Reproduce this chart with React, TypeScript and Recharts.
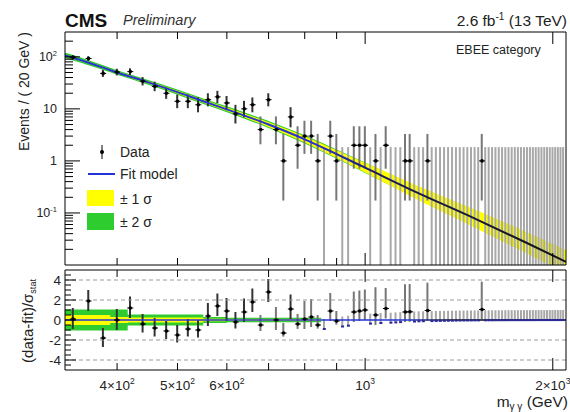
import React from 'react';
import { ComposedChart, XAxis, YAxis, Area, Line, Bar, Scatter, Cell, ReferenceLine } from 'recharts';

// ---------- data ----------
const massBins = [
  340, 360, 380, 400, 420, 440, 460, 480, 500, 520,
  540, 560, 580, 600, 620, 640, 660, 680, 700, 720,
  740, 760, 780, 800, 820, 840, 860, 880, 900, 920,
  940, 960, 980, 1000, 1020, 1040, 1060, 1080, 1100, 1120,
  1140, 1160, 1180, 1200, 1220, 1240, 1260, 1280, 1300, 1320,
  1340, 1360, 1380, 1400, 1420, 1440, 1460, 1480, 1500, 1520,
  1540, 1560, 1580, 1600, 1620, 1640, 1660, 1680, 1700, 1720,
  1740, 1760, 1780, 1800, 1820, 1840, 1860, 1880, 1900, 1920,
  1940, 1960, 1980, 2000, 2020, 2040, 2060, 2080,
];

const counts = [
  98, 93, 48, 51, 52, 34, 27, 20, 14, 14,
  12, 15, 17, 13, 8, 10, 12, 4, 15, 4,
  1, 7, 2, 3, 3, 1, 0, 3, 1, 0,
  0, 2, 2, 2, 0, 1, 0, 2, 0, 0,
  0, 1, 1, 0, 0, 0, 1, 0, 0, 0,
  0, 0, 0, 0, 0, 0, 0, 0, 0, 0,
  1, 0, 0, 0, 0, 0, 0, 0, 0, 0,
  0, 0, 0, 0, 0, 0, 0, 0, 0, 0,
  0, 0, 0, 0, 0, 0, 0, 0,
];

// Poisson (Garwood 68%) interval ends for the counts that occur
const poissonLow: Record<number, number> = {
  0: 0, 1: 0.173, 2: 0.708, 3: 1.367, 4: 2.086, 7: 4.419, 8: 5.232, 10: 6.891, 12: 8.585,
  13: 9.441, 14: 10.3, 15: 11.17, 17: 12.92, 20: 15.58, 27: 21.86, 34: 28.22, 48: 41.1,
  51: 43.9, 52: 44.8, 93: 83.4, 98: 88.1,
};
const poissonHigh: Record<number, number> = {
  0: 1.841, 1: 3.3, 2: 4.638, 3: 5.918, 4: 7.163, 7: 10.77, 8: 11.95, 10: 14.27, 12: 16.57,
  13: 17.71, 14: 18.84, 15: 19.96, 17: 22.2, 20: 25.54, 27: 33.24, 34: 40.86, 48: 55.9,
  51: 59.1, 52: 60.2, 93: 103.2, 98: 108.4,
};

const pulls = [
  0.1, 1.9, -1.8, 0.0, 1.2, -0.4, -0.8, -1.1, -1.5, -0.9,
  -1.0, 0.4, 1.4, 0.9, -0.2, 0.8, 1.8, -0.5, 2.8, 0.0,
  -1.3, 1.1, -0.4, 0.1, 0.3, -0.5, -0.9, 0.9, -0.1, -0.65,
  -0.57, 0.8, 0.9, 1.0, -0.36, 0.5, -0.3, 1.15, -0.27, -0.24,
  -0.21, 0.8, 0.82, -0.15, -0.13, -0.12, 0.95, -0.11, -0.1, -0.09,
  -0.08, -0.075, -0.07, -0.06, -0.055, -0.05, -0.047, -0.044, -0.04, -0.037,
  1.05, -0.032, -0.03, -0.028, -0.026, -0.024, -0.022, -0.021, -0.019, -0.018,
  -0.017, -0.016, -0.015, -0.014, -0.013, -0.012, -0.011, -0.011, -0.01, -0.009,
  -0.009, -0.008, -0.008, -0.007, -0.007, -0.006, -0.006, -0.006,
];
const pullErrUp = [
  1.1, 1.1, 1, 1.1, 1.15, 1, 1, 1, 1, 1,
  1, 1.3, 1.25, 1.3, 1, 1.35, 1.35, 1, 1.3, 1.3,
  1, 1.45, 1, 1.8, 1.8, 1, 1, 1.8, 1, 1,
  1, 2.05, 2.05, 2.05, 1, 2.78, 1, 2.05, 1, 1,
  1, 2.78, 2.78, 1, 1, 1, 2.78, 1, 1, 1,
  1, 1, 1, 1, 1, 1, 1, 1, 1, 1,
  2.78, 1, 1, 1, 1, 1, 1, 1, 1, 1,
  1, 1, 1, 1, 1, 1, 1, 1, 1, 1,
  1, 1, 1, 1, 1, 1, 1, 1,
];
const pullErrDn = [
  1, 1, 0.9, 1, 1, 0.85, 0.85, 0.8, 0.75, 0.75,
  0.75, 1, 1, 1, 0.65, 1, 1, 0.6, 1, 1,
  0.36, 1, 0.49, 1, 1, 0.36, 0, 1, 0.36, 0,
  0, 1, 1, 1, 0, 1, 0, 1, 0, 0,
  0, 1, 1, 0, 0, 0, 1, 0, 0, 0,
  0, 0, 0, 0, 0, 0, 0, 0, 0, 0,
  1, 0, 0, 0, 0, 0, 0, 0, 0, 0,
  0, 0, 0, 0, 0, 0, 0, 0, 0, 0,
  0, 0, 0, 0, 0, 0, 0, 0,
];

// fit model
const fitMass = [330, 340, 360, 380, 400, 450, 500, 550, 600, 700, 800, 900, 1000, 1200, 1500, 1800, 2100];
const fitValue = [106, 96, 77, 62, 50, 32, 21, 14, 9.8, 5.0, 2.6, 1.35, 0.74, 0.26, 0.078, 0.028, 0.0115];
const fitErr1 = [0.04, 0.04, 0.04, 0.04, 0.04, 0.05, 0.06, 0.07, 0.08, 0.11, 0.15, 0.19, 0.24, 0.36, 0.5, 0.6, 0.68];
const fitErr2 = [0.13, 0.13, 0.12, 0.11, 0.105, 0.11, 0.12, 0.13, 0.14, 0.17, 0.2, 0.23, 0.26, 0.3, 0.32, 0.33, 0.33];

// pull-panel bands
const pullBandMass = [330, 390, 416, 550, 600, 850, 2100];
const pullBand2 = [1.05, 1.05, 0.55, 0.3, 0.22, 0, 0];
const pullBand1 = [0.5, 0.3, 0.25, 0.12, 0.1, 0, 0];

// axis ticks
const xTicks = [400, 500, 600, 700, 800, 900, 1000, 2000];
const xMajor = [1000, 2000];
const xLabels: Record<string, [string, string]> = {
  '400': ['4×10', '2'], '500': ['5×10', '2'], '600': ['6×10', '2'], '1000': ['10', '3'], '2000': ['2×10', '3'],
};
const yLogTicks = [
  0.02, 0.03, 0.04, 0.05, 0.06, 0.07, 0.08, 0.09, 0.1,
  0.2, 0.3, 0.4, 0.5, 0.6, 0.7, 0.8, 0.9, 1,
  2, 3, 4, 5, 6, 7, 8, 9, 10,
  20, 30, 40, 50, 60, 70, 80, 90, 100, 200,
];
const yLogLabels: Record<string, [string, string]> = { '-1': ['10', '-1'], '0': ['1', ''], '1': ['10', ''], '2': ['10', '2'] };
const pullTicks = [-4.5, -4, -3.5, -3, -2.5, -2, -1.5, -1, -0.5, 0, 0.5, 1, 1.5, 2, 2.5, 3, 3.5, 4, 4.5];
const pullLabeled = [-4, -2, 0, 2, 4];
const pullGrid = [-4, -2, 2, 4];

// ---------- rows built from the arrays ----------
const LOG_FLOOR = 1e-4;
const binRows = massBins.map((m, i) => {
  const n = counts[i];
  return {
    m,
    n,
    err: [Math.max(poissonLow[n], LOG_FLOOR), poissonHigh[n]],
    pull: pulls[i],
    pullErr: [pulls[i] - pullErrDn[i], pulls[i] + pullErrUp[i]],
  };
});
const pointRows = binRows.filter((r) => r.n > 0);
const fitRows = fitMass.map((m, i) => ({
  m,
  fit: fitValue[i],
  band1: [fitValue[i] / (1 + fitErr1[i]), fitValue[i] * (1 + fitErr1[i])],
  band2: [fitValue[i] / (1 + fitErr2[i]), fitValue[i] * (1 + fitErr2[i])],
}));
const pullBandRows = pullBandMass.map((m, i) => ({
  m,
  b1: [-pullBand1[i], pullBand1[i]],
  b2: [-pullBand2[i], pullBand2[i]],
}));

// ---------- styling helpers ----------
const FONT = '"Liberation Sans", Arial, Helvetica, sans-serif';
const TXT = '#222';
const X_DOMAIN = [330, 2100];
const GREEN = '#2ecc2e';
const YELLOW = '#ffff00';

function xTick(side: 'top' | 'bottom', labels: boolean) {
  return (props: any) => {
    const { x, y, payload } = props;
    const v = payload.value;
    const len = xMajor.includes(v) ? 12 : 7;
    const dir = side === 'bottom' ? -1 : 1;
    const lab = labels ? xLabels[String(v)] : undefined;
    return (
      <g>
        <line x1={x} x2={x} y1={y} y2={y + dir * len} stroke="#000" strokeWidth={1} />
        {lab && (
          <text x={x} y={y + 20} textAnchor="middle" fontSize={13.5} fill={TXT} fontFamily={FONT}>
            {lab[0]}
            <tspan fontSize={8.5} dy={-6}>{lab[1]}</tspan>
          </text>
        )}
      </g>
    );
  };
}

const yLogTick = (props: any) => {
  const { x, y, payload } = props;
  const v = payload.value as number;
  const e = Math.log10(v);
  const major = Math.abs(e - Math.round(e)) < 1e-6;
  const lab = major ? yLogLabels[String(Math.round(e))] : undefined;
  return (
    <g>
      <line x1={x} x2={x + (major ? 15 : 8)} y1={y} y2={y} stroke="#000" strokeWidth={1} />
      {lab && (
        <text x={x - 8} y={y + 4} textAnchor="end" fontSize={12.5} fill={TXT} fontFamily={FONT}>
          {lab[0]}
          {lab[1] && <tspan fontSize={7.5} dy={-5}>{lab[1]}</tspan>}
        </text>
      )}
    </g>
  );
};

const pullTick = (props: any) => {
  const { x, y, payload } = props;
  const v = payload.value as number;
  const major = pullLabeled.includes(v);
  return (
    <g>
      <line x1={x} x2={x + (major ? 11 : 6)} y1={y} y2={y} stroke="#000" strokeWidth={1} />
      {major && (
        <text x={x - 4} y={y + 5} textAnchor="end" fontSize={13.5} fill={TXT} fontFamily={FONT}>
          {String(v)}
        </text>
      )}
    </g>
  );
};

const DataMarker = (p: any) => {
  if (p.cx == null || p.cy == null) return <g />;
  return (
    <g>
      <line x1={p.cx - 3} x2={p.cx + 3} y1={p.cy} y2={p.cy} stroke="#000" strokeWidth={1} />
      <circle cx={p.cx} cy={p.cy} r={1.8} fill="#000" />
    </g>
  );
};

const PullMarker = (p: any) => {
  if (p.cx == null || p.cy == null) return <g />;
  const zero = p.payload && p.payload.n === 0;
  return zero ? (
    <rect x={p.cx - 1.5} y={p.cy - 1} width={3} height={2} fill="#2a2a9a" />
  ) : (
    <g>
      <line x1={p.cx - 3} x2={p.cx + 3} y1={p.cy} y2={p.cy} stroke="#000" strokeWidth={1} />
      <circle cx={p.cx} cy={p.cy} r={1.8} fill="#000" />
    </g>
  );
};

export default function App() {
  return (
    <div style={{ position: 'absolute', left: 0, top: 0, width: 570, height: 412, background: '#fff', overflow: 'hidden' }}>
      {/* top panel */}
      <div style={{ position: 'absolute', left: 0, top: 0 }}>
        <ComposedChart width={570} height={270} data={binRows} margin={{ top: 31, right: 0, bottom: 0, left: 0 }}>
          <defs>
            <linearGradient id="fitGrad" gradientUnits="userSpaceOnUse" x1={65} y1={0} x2={566} y2={0}>
              <stop offset="0" stopColor="#2433d6" />
              <stop offset="0.5" stopColor="#2433d6" />
              <stop offset="0.62" stopColor="#1b1b5a" />
              <stop offset="1" stopColor="#141414" />
            </linearGradient>
          </defs>
          <XAxis xAxisId="b" dataKey="m" type="number" scale="log" domain={X_DOMAIN} allowDataOverflow
            ticks={xTicks} interval={0} tick={xTick('bottom', false)} tickLine={false} tickSize={0} tickMargin={0}
            height={5} axisLine={{ stroke: '#000' }} />
          <XAxis xAxisId="t" orientation="top" dataKey="m" type="number" scale="log" domain={X_DOMAIN} allowDataOverflow
            ticks={xTicks} interval={0} tick={xTick('top', false)} tickLine={false} tickSize={0} tickMargin={0}
            height={1} axisLine={{ stroke: '#000' }} />
          <YAxis yAxisId="l" type="number" scale="log" domain={[0.01, 300]} allowDataOverflow
            ticks={yLogTicks} interval={0} tick={yLogTick} tickLine={false} tickSize={0} tickMargin={0}
            width={65} axisLine={{ stroke: '#000' }} />
          <YAxis yAxisId="r" orientation="right" type="number" scale="log" domain={[0.01, 300]} allowDataOverflow
            tick={false} tickLine={false} width={4} axisLine={{ stroke: '#000' }} />
          <Area xAxisId="b" yAxisId="l" data={fitRows} dataKey="band2" type="monotone" fill={GREEN} fillOpacity={1}
            stroke="none" isAnimationActive={false} />
          <Area xAxisId="b" yAxisId="l" data={fitRows} dataKey="band1" type="monotone" fill={YELLOW} fillOpacity={1}
            stroke="none" isAnimationActive={false} />
          <Bar xAxisId="b" yAxisId="l" dataKey="err" barSize={2} isAnimationActive={false}>
            {binRows.map((r, i) => (
              <Cell key={i} fill={r.n === 0 ? '#a8a8a8' : r.n < 5 ? '#777' : '#333'} />
            ))}
          </Bar>
          <Line xAxisId="b" yAxisId="l" data={fitRows} dataKey="fit" type="monotone" stroke="url(#fitGrad)"
            strokeWidth={2} dot={false} isAnimationActive={false} />
          <Scatter xAxisId="b" yAxisId="l" data={pointRows} dataKey="n" shape={DataMarker} isAnimationActive={false} />
        </ComposedChart>
      </div>

      {/* pull panel */}
      <div style={{ position: 'absolute', left: 0, top: 262 }}>
        <ComposedChart width={570} height={150} data={binRows} margin={{ top: 7, right: 0, bottom: 0, left: 0 }}>
          <defs>
            <linearGradient id="zeroGrad" gradientUnits="userSpaceOnUse" x1={65} y1={0} x2={566} y2={0}>
              <stop offset="0" stopColor="#2433d6" />
              <stop offset="0.68" stopColor="#2433d6" />
              <stop offset="0.78" stopColor="#111" />
              <stop offset="1" stopColor="#111" />
            </linearGradient>
          </defs>
          <XAxis xAxisId="b" dataKey="m" type="number" scale="log" domain={X_DOMAIN} allowDataOverflow
            ticks={xTicks} interval={0} tick={xTick('bottom', true)} tickLine={false} tickSize={0} tickMargin={0}
            height={42} axisLine={{ stroke: '#000' }} />
          <XAxis xAxisId="t" orientation="top" dataKey="m" type="number" scale="log" domain={X_DOMAIN} allowDataOverflow
            ticks={xTicks} interval={0} tick={xTick('top', false)} tickLine={false} tickSize={0} tickMargin={0}
            height={1} axisLine={{ stroke: '#000' }} />
          <YAxis yAxisId="l" type="number" domain={[-5, 5]} allowDataOverflow
            ticks={pullTicks} interval={0} tick={pullTick} tickLine={false} tickSize={0} tickMargin={0}
            width={65} axisLine={{ stroke: '#000' }} />
          <YAxis yAxisId="r" orientation="right" type="number" domain={[-5, 5]} allowDataOverflow
            tick={false} tickLine={false} width={4} axisLine={{ stroke: '#000' }} />
          {pullGrid.map((g) => (
            <ReferenceLine key={g} xAxisId="b" yAxisId="l" y={g} stroke="#9a9a9a" strokeDasharray="4 3" strokeWidth={1} />
          ))}
          <Area xAxisId="b" yAxisId="l" data={pullBandRows} dataKey="b2" type="stepAfter" fill={GREEN} fillOpacity={1}
            stroke="none" isAnimationActive={false} />
          <Area xAxisId="b" yAxisId="l" data={pullBandRows} dataKey="b1" type="stepAfter" fill={YELLOW} fillOpacity={1}
            stroke="none" isAnimationActive={false} />
          <ReferenceLine xAxisId="b" yAxisId="l" y={0} stroke="url(#zeroGrad)" strokeWidth={1.5} />
          <Bar xAxisId="b" yAxisId="l" dataKey="pullErr" barSize={2} isAnimationActive={false}>
            {binRows.map((r, i) => (
              <Cell key={i} fill={r.n === 0 ? '#a8a8a8' : r.n < 5 ? '#777' : '#333'} />
            ))}
          </Bar>
          <Scatter xAxisId="b" yAxisId="l" dataKey="pull" shape={PullMarker} isAnimationActive={false} />
        </ComposedChart>
      </div>

      {/* titles, legend, axis titles */}
      <svg width={570} height={412} style={{ position: 'absolute', left: 0, top: 0, pointerEvents: 'none' }} fontFamily={FONT}>
        <text x={65} y={27} fontSize={19} fontWeight="bold" fill="#111">CMS</text>
        <text x={123} y={25} fontSize={14.5} fontStyle="italic" fill="#333">Preliminary</text>
        <text x={567} y={26} textAnchor="end" fontSize={15.5} fill={TXT}>
          2.6 fb<tspan fontSize={10} dy={-6}>-1</tspan>
          <tspan dy={6}> (13 TeV)</tspan>
        </text>
        <text x={456} y={54} fontSize={12.5} fill={TXT}>EBEE category</text>

        {/* legend */}
        <line x1={102} x2={102} y1={145} y2={159} stroke="#000" strokeWidth={1} />
        <circle cx={102} cy={152} r={2} fill="#000" />
        <text x={120} y={157} fontSize={14} fill={TXT}>Data</text>
        <line x1={88} x2={115} y1={174} y2={174} stroke="#2433d6" strokeWidth={2} />
        <text x={120} y={179} fontSize={14} fill={TXT}>Fit model</text>
        <rect x={87} y={190} width={27} height={16} fill={YELLOW} />
        <text x={120} y={204} fontSize={14} fill={TXT}>± 1 σ</text>
        <rect x={87} y={213} width={27} height={17} fill={GREEN} />
        <text x={120} y={227} fontSize={14} fill={TXT}>± 2 σ</text>

        <text transform="translate(29,32) rotate(-90)" textAnchor="end" fontSize={14} fill={TXT}>
          Events / ( 20 GeV )
        </text>
        <text transform="translate(33,321) rotate(-90)" textAnchor="middle" fontSize={15} fill={TXT}>
          (data-fit)/σ<tspan fontSize={9} dy={3}>stat</tspan>
        </text>
        <text x={568} y={407} textAnchor="end" fontSize={15.5} fill={TXT}>
          m<tspan fontSize={10} dy={3}>γ γ</tspan>
          <tspan dy={-3}> (GeV)</tspan>
        </text>
      </svg>
    </div>
  );
}
